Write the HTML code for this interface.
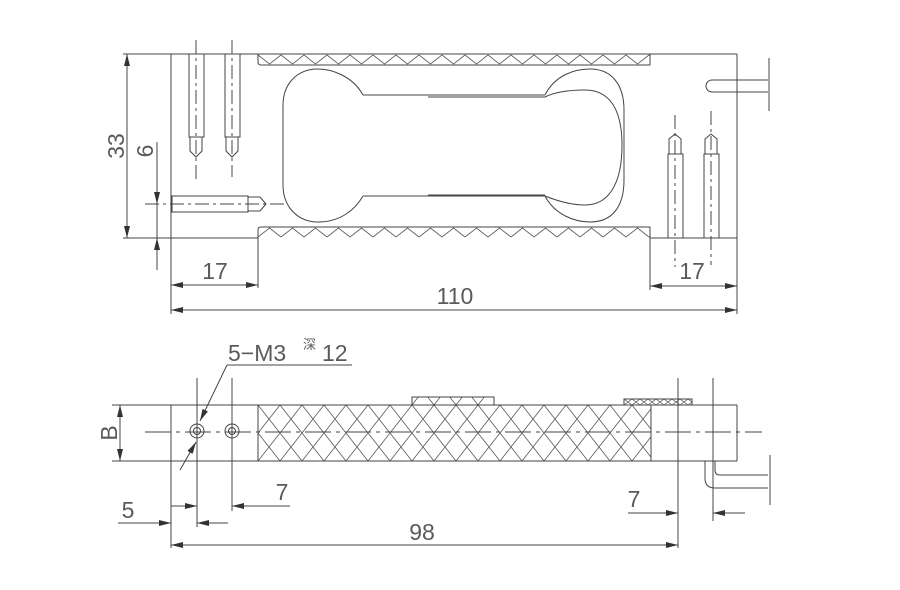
<!DOCTYPE html>
<html><head><meta charset="utf-8"><style>
html,body{margin:0;padding:0;background:#fff;}
svg{display:block;}
text{font-family:"Liberation Sans","Noto Sans CJK SC",sans-serif;fill:#5a5a5a;font-size:23px;}
</style></head><body>
<svg width="900" height="590" viewBox="0 0 900 590" xmlns="http://www.w3.org/2000/svg">
<defs>
<marker id="a" viewBox="0 0 12 6" refX="12" refY="3" markerWidth="12" markerHeight="6" orient="auto-start-reverse" markerUnits="userSpaceOnUse"><path d="M0,0 L12,3 L0,6 Z" fill="#333"/></marker>
<pattern id="x" x="258" y="405" width="22" height="28" patternUnits="userSpaceOnUse"><path d="M0,0 L22,28 M22,0 L0,28" stroke="#555" stroke-width="0.8" fill="none"/></pattern>
<pattern id="z" x="258" y="54" width="23" height="11" patternUnits="userSpaceOnUse"><path d="M0,1 L11.5,10 L23,1" stroke="#555" stroke-width="0.8" fill="none"/></pattern>
<pattern id="z2" x="258" y="227" width="23" height="11" patternUnits="userSpaceOnUse"><path d="M0,10 L11.5,1 L23,10" stroke="#555" stroke-width="0.8" fill="none"/></pattern>
<pattern id="xs" x="624" y="399" width="8" height="6" patternUnits="userSpaceOnUse"><path d="M0,0 L8,6 M8,0 L0,6" stroke="#555" stroke-width="0.7"/></pattern>
</defs>
<g stroke="#444" stroke-width="1" fill="none">
<line x1="123" y1="54" x2="737" y2="54"/>
<line x1="123" y1="238" x2="258" y2="238"/>
<line x1="650" y1="238" x2="737" y2="238"/>
<line x1="171" y1="54" x2="171" y2="314"/>
<line x1="737" y1="54" x2="737" y2="314"/>
<path d="M258,54 L258,62 Q258,65 261,65 L650,65 L650,54" fill="url(#z)"/>
<path d="M258,238 L258,230 Q258,227 261,227 L650,227 L650,238" fill="url(#z2)"/>
<path d="M363,95 C352,75 330,69 318,69 C296,69 283,85 283,105 L283,185 C283,207 298,222 318,222 C340,222 355,210 363,196"/>
<line x1="363" y1="95" x2="545" y2="95"/>
<line x1="428" y1="97" x2="545" y2="97"/>
<line x1="363" y1="196" x2="545" y2="196"/>
<line x1="428" y1="195" x2="545" y2="195"/>
<path d="M545,95 C555,75 575,69 590,69 C612,69 624,85 624,110 L624,180 C624,207 612,222 590,222 C575,222 555,215 545,196"/>
<path d="M545,97 C555,92 570,90 585,90 C610,90 622,110 622,145 C622,185 608,205 585,205 C570,205 555,200 545,196"/>
<rect x="189" y="54" width="15" height="83"/><path d="M190,137 L190,151 L196,157 L202,151 L202,137"/>
<line x1="196" y1="40" x2="196" y2="180" stroke-dasharray="14,4,3,4"/>
<rect x="225" y="54" width="15" height="83"/><path d="M226,137 L226,151 L232,157 L238,151 L238,137"/>
<line x1="232" y1="40" x2="232" y2="177" stroke-dasharray="14,4,3,4"/>
<rect x="172" y="196" width="76" height="16"/><path d="M248,197 L260,197 L266,204 L260,211 L248,211"/>
<line x1="145" y1="204" x2="288" y2="204" stroke-dasharray="14,4,3,4"/>
<rect x="668" y="154" width="15" height="84"/><path d="M669,154 L669,139 L675,134 L681,139 L681,154"/>
<line x1="675" y1="115" x2="675" y2="267" stroke-dasharray="14,4,3,4"/>
<rect x="704" y="154" width="15" height="84"/><path d="M705,154 L705,139 L711,134 L717,139 L717,154"/>
<line x1="711" y1="111" x2="711" y2="265" stroke-dasharray="14,4,3,4"/>
<path d="M768,80 L712,80 A6,6 0 0 0 712,92 L768,92"/>
<line x1="769" y1="58" x2="769" y2="111"/>
<line x1="127" y1="54" x2="127" y2="238" marker-start="url(#a)" marker-end="url(#a)"/>
<line x1="157" y1="142" x2="157" y2="204" marker-end="url(#a)"/>
<line x1="157" y1="270" x2="157" y2="238" marker-end="url(#a)"/>
<line x1="157" y1="204" x2="157" y2="238"/>
<line x1="258" y1="238" x2="258" y2="288"/>
<line x1="650" y1="238" x2="650" y2="290"/>
<line x1="171" y1="285" x2="258" y2="285" marker-start="url(#a)" marker-end="url(#a)"/>
<line x1="650" y1="286" x2="737" y2="286" marker-start="url(#a)" marker-end="url(#a)"/>
<line x1="171" y1="310" x2="737" y2="310" marker-start="url(#a)" marker-end="url(#a)"/>
<line x1="112" y1="405" x2="737" y2="405"/>
<line x1="112" y1="461" x2="737" y2="461"/>
<line x1="171" y1="405" x2="171" y2="548"/>
<line x1="737" y1="405" x2="737" y2="461"/>
<rect x="258" y="405" width="393" height="56" fill="url(#x)"/>
<rect x="412" y="397" width="82" height="8" fill="url(#x)"/>
<rect x="624" y="399" width="68" height="6" fill="url(#xs)"/>
<line x1="145" y1="432" x2="762" y2="432" stroke-dasharray="26,5,4,5"/>
<line x1="120" y1="405" x2="120" y2="461" marker-start="url(#a)" marker-end="url(#a)"/>
<circle cx="197" cy="431" r="7"/><circle cx="197" cy="431" r="3.5"/>
<circle cx="232" cy="431" r="7"/><circle cx="232" cy="431" r="3.5"/>
<line x1="197" y1="378" x2="197" y2="527"/>
<line x1="232" y1="378" x2="232" y2="511"/>
<line x1="678" y1="378" x2="678" y2="548"/>
<line x1="713" y1="378" x2="713" y2="521"/>
<line x1="227" y1="365" x2="352" y2="365"/>
<line x1="227" y1="365" x2="200" y2="421" marker-end="url(#a)"/>
<line x1="180" y1="470" x2="196" y2="442" marker-end="url(#a)"/>
<path d="M705,461 L705,478 Q705,488 715,488 L768,488"/>
<path d="M715,461 L715,470 Q715,475 720,475 L768,475"/>
<line x1="770" y1="455" x2="770" y2="505"/>
<line x1="118" y1="523" x2="171" y2="523" marker-end="url(#a)"/>
<line x1="228" y1="523" x2="197" y2="523" marker-end="url(#a)"/>
<line x1="171" y1="506" x2="197" y2="506" marker-end="url(#a)"/>
<line x1="290" y1="506" x2="232" y2="506" marker-end="url(#a)"/>
<line x1="628" y1="513" x2="678" y2="513" marker-end="url(#a)"/>
<line x1="745" y1="513" x2="713" y2="513" marker-end="url(#a)"/>
<line x1="171" y1="545" x2="678" y2="545" marker-start="url(#a)" marker-end="url(#a)"/>
</g>
<text x="0" y="0" transform="translate(124,146) rotate(-90)" text-anchor="middle">33</text>
<text x="0" y="0" transform="translate(153,151) rotate(-90)" text-anchor="middle">6</text>
<text x="215" y="279" text-anchor="middle">17</text>
<text x="692" y="279" text-anchor="middle">17</text>
<text x="455" y="304" text-anchor="middle">110</text>
<text x="0" y="0" transform="translate(117,433) rotate(-90)" text-anchor="middle">B</text>
<text x="228" y="361">5−M3</text>
<text x="303" y="349" style="font-size:13px">深</text>
<text x="322" y="361">12</text>
<text x="128" y="518" text-anchor="middle">5</text>
<text x="282" y="500" text-anchor="middle">7</text>
<text x="634" y="507" text-anchor="middle">7</text>
<text x="422" y="540" text-anchor="middle">98</text>
</svg>
</body></html>
